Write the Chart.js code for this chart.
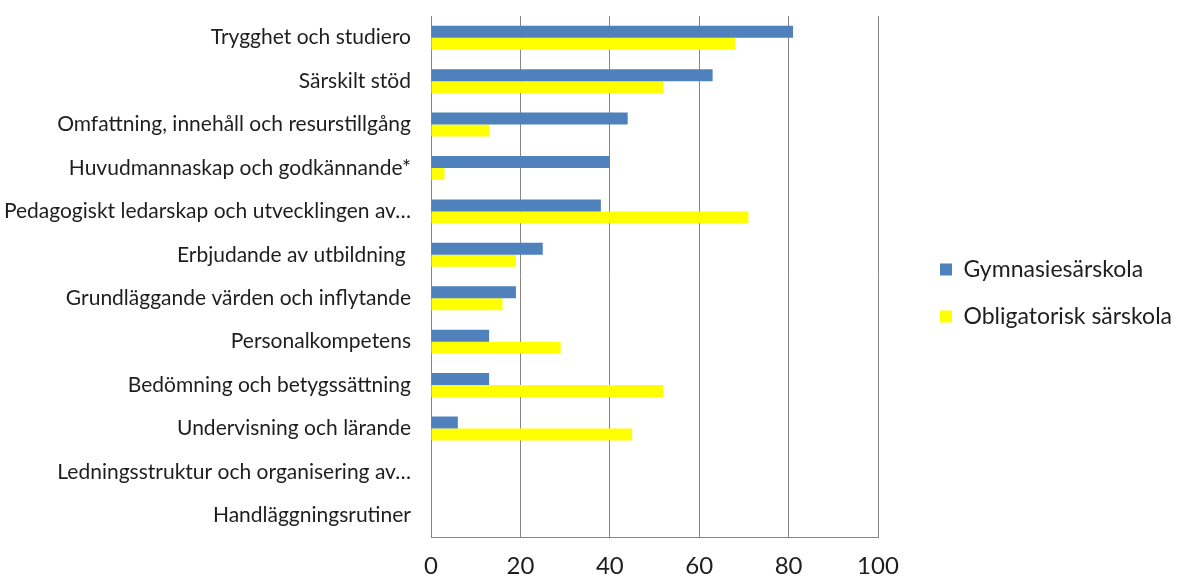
<!DOCTYPE html>
<html>
<head>
<meta charset="utf-8">
<script src="https://cdn.jsdelivr.net/npm/chart.js@4/dist/chart.umd.min.js"></script>
<style>
  html, body { margin: 0; padding: 0; background: #fff; }
  #wrap { width: 1180px; height: 578px; }
</style>
</head>
<body>
<div id="wrap"><canvas id="chart" width="1180" height="578"></canvas></div>
<script>
const categories = [
  "Trygghet och studiero",
  "Särskilt stöd",
  "Omfattning, innehåll och resurstillgång",
  "Huvudmannaskap och godkännande*",
  "Pedagogiskt ledarskap och utvecklingen av…",
  "Erbjudande av utbildning ",
  "Grundläggande värden och inflytande",
  "Personalkompetens",
  "Bedömning och betygssättning",
  "Undervisning och lärande",
  "Ledningsstruktur och organisering av…",
  "Handläggningsrutiner"
]
const gymnasiesarskola = [81, 63, 44, 40, 38, 25, 19, 13, 13, 6, 0, 0]
const obligatoriskSarskola = [68, 52, 13, 3, 71, 19, 16, 29, 52, 45, 0, 0]
const xTicks = [0, 20, 40, 60, 80, 100]

const fontFamily = "Lato, 'Open Sans', sans-serif"
const textColor = "#1e1e1e"
const gridColor = "#868686"

// keep legend to the right of the plot, like the original
const legendPlace = {
  id: "legendPlace",
  beforeLayout(chart) {
    const lg = chart.legend
    if (!lg._wrapped) {
      const fit = lg.fit
      lg.fit = function () {
        fit.call(this)
        this.width = 302
      }
      lg._wrapped = true
    }
  },
  afterLayout(chart) {
    const lg = chart.legend
    lg.left = chart.chartArea.right + 62 - lg.options.labels.padding
    lg.top = 12
    lg.bottom = chart.height - 4
  }
}

const ctx = document.getElementById("chart").getContext("2d")
new Chart(ctx, {
  type: "bar",
  data: {
    labels: categories,
    datasets: [
      {
        label: "Gymnasiesärskola",
        data: gymnasiesarskola,
        backgroundColor: "#4f81bd",
        borderWidth: 0
      },
      {
        label: "Obligatorisk särskola",
        data: obligatoriskSarskola,
        backgroundColor: "#ffff00",
        borderWidth: 0
      }
    ]
  },
  options: {
    indexAxis: "y",
    responsive: false,
    animation: false,
    layout: { padding: { top: 16, left: 0, right: 0, bottom: 0 } },
    datasets: {
      bar: { barPercentage: 1, categoryPercentage: 0.55 }
    },
    scales: {
      x: {
        min: 0,
        max: 100,
        afterBuildTicks(scale) {
          scale.ticks = xTicks.map(v => ({ value: v }))
        },
        afterFit(scale) {
          scale.height = 41
          scale.paddingLeft = 0
          scale.paddingRight = 0
        },
        grid: { color: gridColor, lineWidth: 1, drawTicks: false },
        border: { display: true, color: gridColor, width: 1 },
        ticks: {
          color: textColor,
          font: { family: fontFamily, size: 24 },
          padding: 15
        }
      },
      y: {
        afterFit(scale) {
          scale.width = 431
          scale.paddingTop = 0
          scale.paddingBottom = 0
        },
        grid: { display: false, drawTicks: false },
        border: { display: true, color: gridColor, width: 1 },
        ticks: {
          color: textColor,
          font: { family: fontFamily, size: 21 },
          padding: 20,
          autoSkip: false
        }
      }
    },
    plugins: {
      legend: {
        position: "right",
        labels: {
          color: textColor,
          font: { family: fontFamily, size: 23 },
          boxWidth: 12,
          boxHeight: 12,
          padding: 24
        }
      },
      tooltip: { enabled: false }
    }
  },
  plugins: [legendPlace]
})
</script>
</body>
</html>
